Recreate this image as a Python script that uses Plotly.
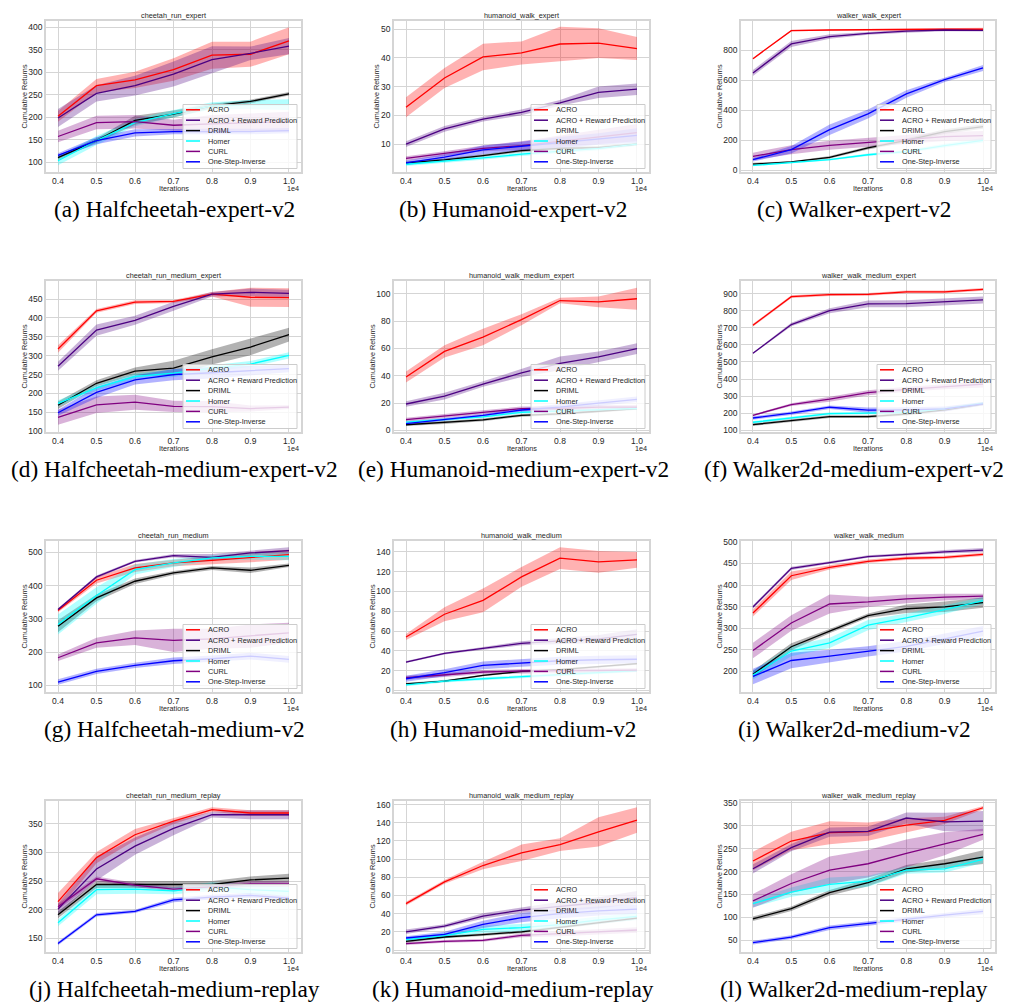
import plotly.graph_objects as go

# ---------------- data ----------------
ITERATIONS = [4000, 5000, 6000, 7000, 8000, 9000, 10000]
X_TICK_LABELS = ["0.4", "0.5", "0.6", "0.7", "0.8", "0.9", "1.0"]
METHODS = ["ACRO", "ACRO + Reward Prediction", "DRIML", "Homer", "CURL", "One-Step-Inverse"]
METHOD_COLORS = ["#ff0000", "#4b0082", "#000000", "#00ffff", "#800080", "#0000ff"]

# (a) cheetah_run_expert   rows follow METHODS order
cheetah_run_expert_mean = [
    [202, 270, 283, 306, 338, 340, 370],
    [198, 253, 270, 296, 328, 342, 358],
    [110, 148, 193, 207, 225, 235, 252],
    [103, 148, 188, 208, 225, 228, 228],
    [157, 188, 190, 182, 185, 188, 190],
    [115, 148, 165, 168, 168, 168, 170],
]
cheetah_run_expert_spread = [
    [12, 15, 18, 25, 30, 28, 30],
    [20, 18, 22, 28, 30, 15, 18],
    [5, 5, 10, 8, 5, 4, 4],
    [10, 10, 8, 8, 8, 10, 12],
    [13, 15, 15, 12, 20, 20, 22],
    [5, 8, 8, 6, 6, 6, 6],
]

# (b) humanoid_walk_expert
humanoid_walk_expert_mean = [
    [22.8, 33.0, 40.3, 41.7, 44.8, 45.1, 43.2],
    [10.0, 15.3, 18.7, 21.0, 24.3, 28.0, 29.1],
    [3.5, 4.5, 6.0, 7.7, 8.5, 8.8, 10.0],
    [3.0, 4.0, 5.2, 6.5, 7.5, 8.5, 10.0],
    [5.0, 6.7, 8.5, 9.5, 11.0, 12.5, 14.0],
    [3.5, 5.5, 8.0, 9.3, 10.5, 11.8, 13.0],
]
humanoid_walk_expert_spread = [
    [3.5, 3.5, 4.6, 4.0, 6.0, 5.2, 4.0],
    [1.0, 1.0, 0.8, 1.0, 1.0, 2.0, 2.0],
    [0.5, 0.5, 0.5, 0.5, 0.5, 0.5, 0.5],
    [0.6, 0.6, 0.6, 0.6, 0.6, 0.6, 0.6],
    [0.8, 0.8, 1.0, 1.5, 2.0, 2.5, 3.0],
    [0.8, 1.0, 1.5, 1.5, 2.0, 2.0, 2.5],
]

# (c) walker_walk_expert
walker_walk_expert_mean = [
    [744, 931, 935, 938, 940, 940, 940],
    [649, 842, 891, 913, 927, 935, 933],
    [42, 56, 87, 149, 200, 258, 292],
    [33, 51, 71, 104, 125, 165, 200],
    [93, 138, 167, 187, 205, 225, 232],
    [71, 138, 271, 376, 509, 604, 682],
]
walker_walk_expert_spread = [
    [5, 5, 5, 5, 6, 8, 10],
    [20, 20, 15, 10, 10, 8, 8],
    [8, 5, 8, 10, 12, 15, 15],
    [5, 5, 6, 8, 10, 12, 15],
    [25, 30, 30, 30, 30, 30, 30],
    [12, 25, 35, 30, 25, 15, 20],
]

# (d) cheetah_run_medium_expert
cheetah_run_medium_expert_mean = [
    [318, 419, 442, 444, 463, 455, 454],
    [272, 368, 394, 431, 463, 468, 465],
    [169, 227, 259, 267, 297, 323, 356],
    [174, 215, 245, 254, 267, 278, 301],
    [137, 170, 177, 166, 165, 160, 164],
    [149, 203, 236, 250, 255, 260, 266],
]
cheetah_run_medium_expert_spread = [
    [10, 5, 5, 4, 6, 25, 25],
    [12, 15, 12, 12, 6, 10, 10],
    [10, 8, 10, 20, 20, 22, 18],
    [8, 8, 8, 10, 8, 8, 8],
    [20, 22, 20, 15, 15, 8, 5],
    [8, 15, 12, 15, 15, 12, 10],
]

# (e) humanoid_walk_medium_expert
humanoid_walk_medium_expert_mean = [
    [39.0, 57.8, 68.3, 81.0, 95.0, 94.0, 96.3],
    [19.3, 25.1, 33.9, 42.0, 49.0, 53.7, 59.8],
    [4.1, 5.6, 7.6, 11.0, 12.0, 14.0, 16.0],
    [6.0, 7.8, 9.8, 13.2, 14.0, 15.0, 16.0],
    [7.8, 10.7, 13.2, 15.9, 16.0, 17.0, 17.0],
    [4.9, 8.0, 11.0, 14.9, 17.0, 20.0, 22.7],
]
humanoid_walk_medium_expert_spread = [
    [4.0, 4.5, 6.0, 4.0, 2.0, 4.0, 8.0],
    [2.0, 2.5, 2.0, 3.0, 5.0, 4.0, 4.0],
    [1.0, 1.0, 1.0, 1.0, 1.0, 1.0, 1.0],
    [1.0, 1.0, 1.0, 1.0, 1.0, 1.0, 1.0],
    [1.5, 1.5, 1.5, 1.5, 1.5, 1.5, 1.5],
    [1.0, 1.0, 1.0, 1.5, 2.0, 2.0, 2.0],
]

# (f) walker_walk_medium_expert
walker_walk_medium_expert_mean = [
    [715, 882, 894, 896, 910, 910, 925],
    [551, 719, 800, 840, 841, 853, 863],
    [133, 155, 180, 180, 195, 220, 255],
    [147, 172, 197, 200, 205, 225, 258],
    [188, 250, 282, 320, 340, 355, 370],
    [172, 200, 235, 218, 220, 225, 255],
]
walker_walk_medium_expert_spread = [
    [8, 8, 8, 8, 8, 8, 8],
    [5, 10, 15, 20, 20, 20, 20],
    [8, 8, 8, 8, 8, 8, 8],
    [8, 8, 8, 8, 8, 8, 8],
    [5, 8, 15, 15, 15, 15, 20],
    [10, 10, 10, 15, 15, 15, 10],
]

# (g) cheetah_run_medium
cheetah_run_medium_mean = [
    [325, 416, 453, 468, 476, 485, 493],
    [328, 426, 473, 490, 485, 498, 505],
    [278, 363, 413, 438, 453, 446, 461],
    [283, 370, 448, 468, 483, 488, 488],
    [183, 228, 243, 235, 240, 248, 258],
    [110, 142, 160, 174, 180, 188, 178],
]
cheetah_run_medium_spread = [
    [5, 10, 12, 10, 12, 15, 15],
    [4, 4, 4, 5, 10, 8, 10],
    [18, 10, 8, 6, 6, 8, 5],
    [30, 25, 15, 12, 8, 10, 12],
    [10, 15, 22, 35, 30, 35, 30],
    [8, 8, 8, 10, 10, 10, 10],
]

# (h) humanoid_walk_medium
humanoid_walk_medium_mean = [
    [54.0, 77.0, 91.0, 114.7, 133.6, 130.0, 132.0],
    [28.7, 37.4, 42.5, 47.6, 50.0, 52.0, 56.7],
    [6.7, 9.4, 15.2, 19.2, 21.0, 24.0, 27.0],
    [5.7, 9.4, 11.8, 14.2, 16.0, 18.0, 20.0],
    [12.8, 15.5, 18.6, 19.6, 20.0, 20.0, 20.5],
    [11.8, 17.9, 25.3, 28.0, 30.0, 31.0, 31.5],
]
humanoid_walk_medium_spread = [
    [3, 7, 12, 10, 11, 11, 8],
    [1, 1, 1.5, 2, 3, 4, 5],
    [1, 1, 1, 1, 1, 1, 1],
    [1.5, 1.5, 1.5, 1.5, 1.5, 1.5, 1.5],
    [2, 2, 2, 2, 2, 2, 2],
    [3, 3.5, 4, 4, 4, 4, 4],
]

# (i) walker_walk_medium
walker_walk_medium_mean = [
    [335, 421.5, 440.8, 455, 462, 464, 471],
    [349, 438.5, 452, 466, 471, 477, 481],
    [193, 257, 293, 329, 345, 349.5, 359],
    [191, 247, 266, 307, 324, 343, 364],
    [248, 312, 356, 361, 368, 372, 374],
    [188, 225, 235, 246, 258, 275, 293],
]
walker_walk_medium_spread = [
    [8, 10, 5, 4, 4, 4, 4],
    [4, 4, 3, 3, 3, 4, 5],
    [8, 8, 5, 5, 10, 12, 12],
    [10, 12, 12, 12, 10, 10, 8],
    [18, 18, 22, 12, 10, 8, 6],
    [18, 18, 15, 12, 12, 12, 12],
]

# (j) cheetah_run_medium_replay
cheetah_run_medium_replay_mean = [
    [214, 291, 331, 355, 375, 369, 369],
    [201, 271, 311, 342, 366, 366, 366],
    [191, 244, 244, 244, 244, 252, 255],
    [177, 235, 236, 233, 240, 235, 232],
    [205, 254, 243, 236, 240, 245, 245],
    [141, 191, 197, 217, 222, 225, 220],
]
cheetah_run_medium_replay_spread = [
    [15, 10, 10, 5, 4, 5, 5],
    [10, 20, 15, 12, 5, 8, 8],
    [6, 6, 6, 6, 6, 6, 8],
    [6, 8, 8, 6, 8, 8, 8],
    [5, 4, 4, 4, 4, 5, 5],
    [3, 3, 3, 4, 4, 4, 4],
]

# (k) humanoid_walk_medium_replay
humanoid_walk_medium_replay_mean = [
    [51, 75, 93, 107, 116, 130, 143],
    [20, 26.4, 37.4, 44, 48, 52, 58],
    [9.5, 14.3, 16.9, 20, 25, 30, 35],
    [11.4, 15.8, 22.8, 24.6, 28, 33, 37],
    [7, 9.5, 10.6, 16.1, 18, 20, 22],
    [13.2, 17.2, 28.3, 35.6, 40, 43, 45],
]
humanoid_walk_medium_replay_spread = [
    [2, 2, 4, 9, 7, 16, 14],
    [2.5, 2, 3, 3, 5, 6, 7],
    [1.5, 1.5, 1.5, 1.5, 1.5, 1.5, 1.5],
    [2, 3, 4, 4, 4, 4, 4],
    [1.5, 1.5, 1.5, 2, 3, 3, 3],
    [2, 3, 4, 5, 5, 5, 5],
]

# (l) walker_walk_medium_replay
walker_walk_medium_replay_mean = [
    [223, 266.5, 284.6, 287, 301, 311.5, 339],
    [206, 252, 286, 287.5, 316.6, 308, 310],
    [97, 119, 154, 176, 206, 217, 231.6],
    [130, 155, 172, 179, 203, 206, 226.5],
    [136, 174, 203, 217, 239.6, 260.7, 281],
    [45, 57, 77.6, 87, 96, 105, 113],
]
walker_walk_medium_replay_spread = [
    [20, 20, 25, 20, 15, 8, 4],
    [10, 8, 10, 10, 12, 20, 22],
    [5, 5, 6, 8, 8, 10, 15],
    [8, 10, 15, 12, 8, 8, 8],
    [15, 20, 30, 30, 30, 25, 12],
    [4, 4, 5, 5, 5, 5, 6],
]

PANEL_TITLES = [
    "cheetah_run_expert", "humanoid_walk_expert", "walker_walk_expert",
    "cheetah_run_medium_expert", "humanoid_walk_medium_expert", "walker_walk_medium_expert",
    "cheetah_run_medium", "humanoid_walk_medium", "walker_walk_medium",
    "cheetah_run_medium_replay", "humanoid_walk_medium_replay", "walker_walk_medium_replay",
]
PANEL_CAPTIONS = [
    "(a) Halfcheetah-expert-v2", "(b) Humanoid-expert-v2", "(c) Walker-expert-v2",
    "(d) Halfcheetah-medium-expert-v2", "(e) Humanoid-medium-expert-v2", "(f) Walker2d-medium-expert-v2",
    "(g) Halfcheetah-medium-v2", "(h) Humanoid-medium-v2", "(i) Walker2d-medium-v2",
    "(j) Halfcheetah-medium-replay", "(k) Humanoid-medium-replay", "(l) Walker2d-medium-replay",
]
PANEL_MEANS = [
    cheetah_run_expert_mean, humanoid_walk_expert_mean, walker_walk_expert_mean,
    cheetah_run_medium_expert_mean, humanoid_walk_medium_expert_mean, walker_walk_medium_expert_mean,
    cheetah_run_medium_mean, humanoid_walk_medium_mean, walker_walk_medium_mean,
    cheetah_run_medium_replay_mean, humanoid_walk_medium_replay_mean, walker_walk_medium_replay_mean,
]
PANEL_SPREADS = [
    cheetah_run_expert_spread, humanoid_walk_expert_spread, walker_walk_expert_spread,
    cheetah_run_medium_expert_spread, humanoid_walk_medium_expert_spread, walker_walk_medium_expert_spread,
    cheetah_run_medium_spread, humanoid_walk_medium_spread, walker_walk_medium_spread,
    cheetah_run_medium_replay_spread, humanoid_walk_medium_replay_spread, walker_walk_medium_replay_spread,
]
PANEL_Y_TICKS = [
    [100, 150, 200, 250, 300, 350, 400], [10, 20, 30, 40, 50], [0, 200, 400, 600, 800],
    [100, 150, 200, 250, 300, 350, 400, 450], [0, 20, 40, 60, 80, 100], [100, 200, 300, 400, 500, 600, 700, 800, 900],
    [100, 200, 300, 400, 500], [0, 20, 40, 60, 80, 100, 120, 140], [200, 250, 300, 350, 400, 450, 500],
    [150, 200, 250, 300, 350], [0, 20, 40, 60, 80, 100, 120, 140, 160], [50, 100, 150, 200, 250, 300, 350],
]

# ---------------- layout / style ----------------
PANEL_Y_RANGES = [
    [78, 414], [0.3, 52.8], [-11, 995],
    [98, 498], [-1.2, 109.3], [90, 974],
    [80, 534], [-1.6, 151], [152, 502],
    [126, 390], [-2.2, 164], [24.7, 353.7],
]
X_RANGE = [3688, 10312]
FIG_W, FIG_H = 1013, 1003
COL_SPANS = [(38, 293), (386, 641), (733, 987)]
ROW_SPANS = [(13, 164), (273, 424), (533, 684), (793, 944)]
CAPTION_CENTERS = [166, 505, 846]
SANS = "Liberation Sans, Arial, sans-serif"
SERIF = "Liberation Serif, Times New Roman, serif"
TXT = "#262626"
GRID = "#d5d5d5"
SMALL = 7.3
TICK = 8.5
CAPTION_SIZE = 23.3


def px(x):
    return x / FIG_W


def py(y):
    return 1 - y / FIG_H


def rgba(hex_color, a):
    h = hex_color.lstrip("#")
    return "rgba(%d,%d,%d,%s)" % (int(h[0:2], 16), int(h[2:4], 16), int(h[4:6], 16), a)


fig = go.Figure()
annotations = []
shapes = []
axes_layout = {}

for i in range(len(PANEL_TITLES)):
    row, col = divmod(i, 3)
    sfx = "" if i == 0 else str(i + 1)
    xr, yr = "x" + sfx, "y" + sfx
    x0, x1 = COL_SPANS[col]
    y0, y1 = ROW_SPANS[row]
    means, spreads = PANEL_MEANS[i], PANEL_SPREADS[i]

    # bands (below all lines, like matplotlib zorder)
    for k in range(len(METHODS)):
        upper = [m + s for m, s in zip(means[k], spreads[k])]
        lower = [m - s for m, s in zip(means[k], spreads[k])]
        fig.add_trace(go.Scatter(
            x=ITERATIONS + ITERATIONS[::-1], y=upper + lower[::-1],
            fill="toself", fillcolor=rgba(METHOD_COLORS[k], 0.3),
            mode="lines", line=dict(width=0), hoverinfo="skip",
            showlegend=False, xaxis=xr, yaxis=yr))
    for k in range(len(METHODS)):
        fig.add_trace(go.Scatter(
            x=ITERATIONS, y=means[k], mode="lines", name=METHODS[k],
            line=dict(color=METHOD_COLORS[k], width=1.3),
            showlegend=False, xaxis=xr, yaxis=yr))

    axes_layout["xaxis" + sfx] = dict(
        domain=[px(x0), px(x1)], anchor=yr, range=X_RANGE,
        tickmode="array", tickvals=ITERATIONS, ticktext=X_TICK_LABELS,
        showgrid=True, gridcolor=GRID, gridwidth=1, zeroline=False,
        showline=True, mirror=True, linecolor=GRID, linewidth=1.5,
        ticks="", tickfont=dict(size=TICK, color=TXT, family=SANS),
        automargin=False, fixedrange=True)
    axes_layout["yaxis" + sfx] = dict(
        domain=[py(y1), py(y0)], anchor=xr, range=PANEL_Y_RANGES[i],
        tickmode="array", tickvals=PANEL_Y_TICKS[i],
        showgrid=True, gridcolor=GRID, gridwidth=1, zeroline=False,
        showline=True, mirror=True, linecolor=GRID, linewidth=1.5,
        ticks="", tickfont=dict(size=TICK, color=TXT, family=SANS),
        automargin=False, fixedrange=True)

    cx = (x0 + x1) / 2
    font_small = dict(size=SMALL, color=TXT, family=SANS)
    annotations.append(dict(text=PANEL_TITLES[i], x=px(cx), y=py(y0 - 6), xref="paper", yref="paper",
                            xanchor="center", yanchor="middle", showarrow=False, font=font_small))
    ndig = max(len(str(t)) for t in PANEL_Y_TICKS[i])
    annotations.append(dict(text="Cumulative Returns", x=px(x0 - (10 + 4 * ndig)), y=py((y0 + y1) / 2),
                            xref="paper", yref="paper", textangle=-90, xanchor="center", yanchor="middle",
                            showarrow=False, font=font_small))
    annotations.append(dict(text="Iterations", x=px(cx), y=py(y1 + 16.3), xref="paper", yref="paper",
                            xanchor="center", yanchor="middle", showarrow=False, font=font_small))
    annotations.append(dict(text="1e4", x=px(x1), y=py(y1 + 16.3), xref="paper", yref="paper",
                            xanchor="right", yanchor="middle", showarrow=False, font=font_small))
    annotations.append(dict(text=PANEL_CAPTIONS[i], x=px(CAPTION_CENTERS[col]), y=py(y1 + 37),
                            xref="paper", yref="paper", xanchor="center", yanchor="middle", showarrow=False,
                            font=dict(size=CAPTION_SIZE, color="#000000", family=SERIF)))

    # legend (lower right, semi-transparent frame)
    lx1 = x1 - 4
    lx0 = lx1 - 114
    ly1 = y1 - 3.5
    ly0 = ly1 - 64
    shapes.append(dict(type="rect", xref="paper", yref="paper", x0=px(lx0), x1=px(lx1), y0=py(ly1), y1=py(ly0),
                       fillcolor="rgba(255,255,255,0.8)", line=dict(color="#cccccc", width=1), layer="above"))
    for k in range(len(METHODS)):
        ey = ly0 + 5.3 + 10.4 * k
        shapes.append(dict(type="line", xref="paper", yref="paper", x0=px(lx0 + 3), x1=px(lx0 + 17),
                           y0=py(ey), y1=py(ey), line=dict(color=METHOD_COLORS[k], width=1.5), layer="above"))
        annotations.append(dict(text=METHODS[k], x=px(lx0 + 22.5), y=py(ey), xref="paper", yref="paper",
                                xanchor="left", yanchor="middle", showarrow=False, font=font_small))

fig.update_layout(
    width=FIG_W, height=FIG_H, autosize=False,
    margin=dict(l=0, r=0, t=0, b=0),
    paper_bgcolor="white", plot_bgcolor="white",
    showlegend=False,
    annotations=annotations, shapes=shapes,
    **axes_layout,
)

fig.write_html("out.html")
